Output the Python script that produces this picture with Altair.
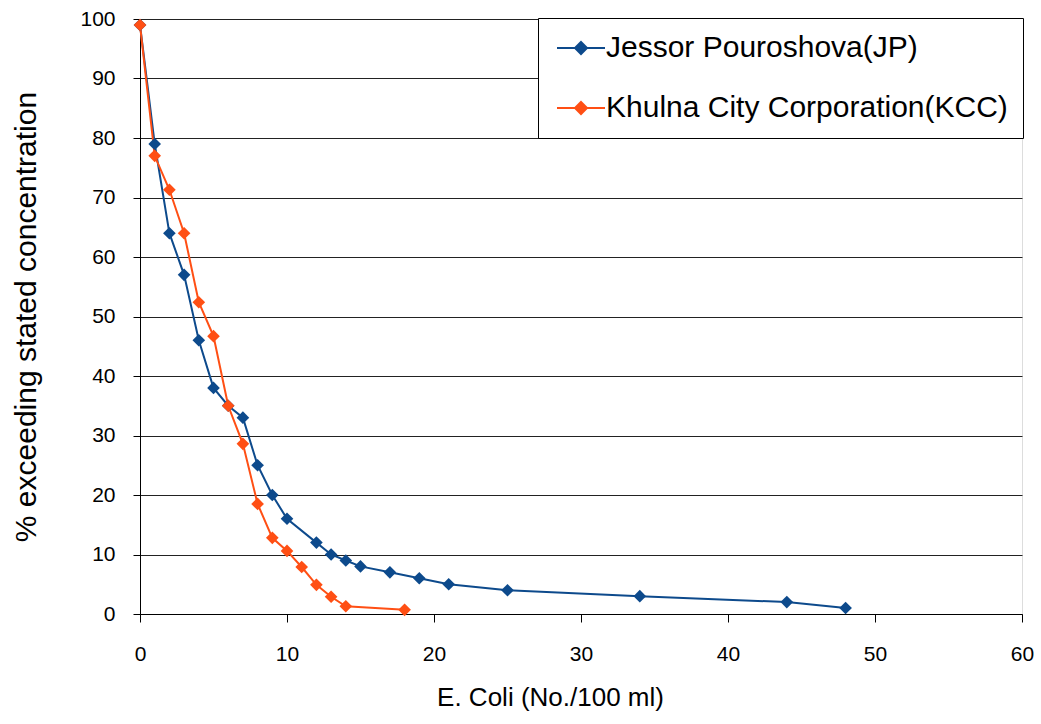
import altair as alt
import pandas as pd

jp_x = [0, 1, 2, 3, 4, 5, 6, 7, 8, 9, 10, 12, 13, 14, 15, 17, 19, 21, 25, 34, 44, 48]
jp_y = [99, 79, 64, 57, 46, 38, 35, 33, 25, 20, 16, 12, 10, 9, 8, 7, 6, 5, 4, 3, 2, 1]
kcc_x = [0, 1, 2, 3, 4, 5, 6, 7, 8, 9, 10, 11, 12, 13, 14, 18]
kcc_y = [99, 77, 71.3, 64, 52.4, 46.7, 35, 28.6, 18.5, 12.8, 10.6, 7.9, 4.9, 2.9, 1.3, 0.7]

series = ["Jessor Pouroshova(JP)", "Khulna City Corporation(KCC)"]
colors = ["#0D4A8C", "#FF4F14"]

df = pd.concat([
    pd.DataFrame({"x": jp_x, "y": jp_y, "s": series[0], "o": range(len(jp_x))}),
    pd.DataFrame({"x": kcc_x, "y": kcc_y, "s": series[1], "o": range(len(kcc_x))}),
])

FONT = "Liberation Sans"

xenc = alt.X("x:Q", scale=alt.Scale(domain=[0, 60], nice=False),
             axis=alt.Axis(title="E. Coli (No./100 ml)", values=list(range(0, 61, 10)),
                           grid=False, tickSize=8, labelPadding=21, titlePadding=20,
                           labelFlush=False, titleX=410, titleAlign="center",
                           labelFontSize=21, titleFontSize=26, labelFont=FONT, titleFont=FONT,
                           titleFontWeight="normal", domainColor="#000", tickColor="#000",
                           labelColor="#000", titleColor="#000"))
yenc = alt.Y("y:Q", scale=alt.Scale(domain=[0, 100], nice=False),
             axis=alt.Axis(title="% exceeding stated concentration", values=list(range(0, 101, 10)),
                           grid=True, gridColor="#222", gridWidth=1, tickSize=7, labelPadding=18,
                           titlePadding=38, labelFontSize=21, titleFontSize=30, labelFont=FONT,
                           titleFont=FONT, titleFontWeight="normal", domainColor="#000",
                           tickColor="#000", labelColor="#000", titleColor="#000"))
color = alt.Color("s:N", scale=alt.Scale(domain=series, range=colors),
                  legend=alt.Legend(title=None, orient="none", legendX=398, legendY=-1,
                                    symbolType="M-4.8,0H4.8M0,-1.2L1.2,0L0,1.2L-1.2,0Z",
                                    symbolSize=100, symbolStrokeWidth=2, symbolOffset=13,
                                    labelFontSize=30, labelFont=FONT, labelColor="#000",
                                    labelOffset=10, rowPadding=30, padding=15,
                                    strokeColor="#000", fillColor="#fff", labelLimit=700))

line = alt.Chart(df).mark_line(strokeWidth=2).encode(x=xenc, y=yenc, color=color, order="o:Q")
pts = alt.Chart(df).mark_point(shape="diamond", filled=True, size=160, opacity=1).encode(
    x=xenc, y=yenc, color=color, fill=alt.Fill("s:N", scale=alt.Scale(domain=series, range=colors), legend=None))

chart = alt.layer(line, pts).properties(
    width=882, height=595,
    autosize=alt.AutoSizeParams(type="none"),
    padding={"left": 140, "top": 19, "right": 19, "bottom": 110},
).configure_view(stroke=None).configure(background="#fff")

chart.save("out.html", embed_options={"renderer": "svg", "actions": False})
